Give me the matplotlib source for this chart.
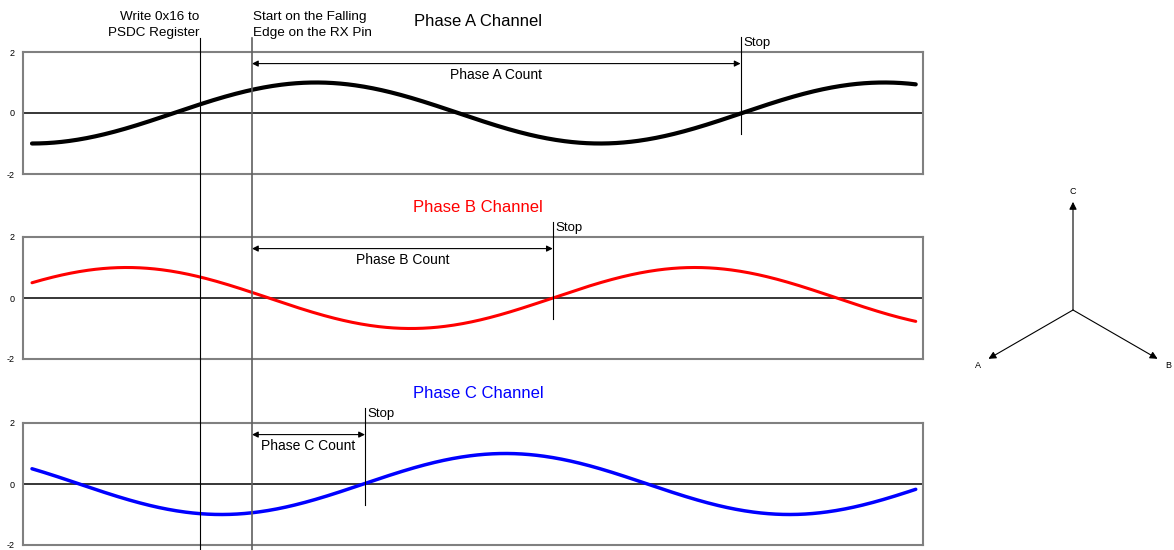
import numpy as np
import matplotlib
matplotlib.use('Agg')
import matplotlib.pyplot as plt
from matplotlib.lines import Line2D
from matplotlib import transforms

plt.rcParams['font.family'] = ['Liberation Sans', 'DejaVu Sans']

# channel data (x axis in electrical degrees)
channels = ['A', 'B', 'C']
titles = ['Phase A Channel', 'Phase B Channel', 'Phase C Channel']
colors = ['black', 'red', 'blue']
phase_offsets = [0, 120, 240]      # wave = -cos(x + offset)
line_widths = [3.0, 2.2, 2.5]
x_start, x_end = 0, 560
stop_x = [449, 330, 211]           # zero crossing where counting stops
count_labels = ['Phase A Count', 'Phase B Count', 'Phase C Count']
write_x = 106.5                    # "Write 0x16 to PSDC Register"
start_x = 139.4                    # "Start on the Falling Edge"
ytick_vals = [-2, 0, 2]

# phasor diagram
phasor_names = ['A', 'B', 'C']
phasor_angles = [210, 330, 90]
phasor_lengths = [0.93, 0.93, 1.03]

fig = plt.figure(figsize=(11.74, 5.5), dpi=100)
W, H = 1174, 550

# panel pixel boxes: (top, bottom)
panel_px = [(52, 174), (237, 359), (423, 545)]
ax_left, ax_right = 23, 923

x = np.linspace(x_start, x_end, 600)
axes = []
for i, (top, bot) in enumerate(panel_px):
    ax = fig.add_axes([ax_left / W, (H - bot) / H, (ax_right - ax_left) / W, (bot - top) / H])
    axes.append(ax)
    y = -np.cos(np.radians(x + phase_offsets[i]))
    ax.plot(x, y, color=colors[i], lw=line_widths[i], solid_capstyle='round', zorder=3)
    ax.axhline(0, color='black', lw=1.1, zorder=2)
    ax.set_xlim(-5.7, 564.6)
    ax.set_ylim(-2, 2)
    ax.set_xticks([])
    ax.set_yticks(ytick_vals)
    ax.set_yticklabels([str(v) for v in ytick_vals], fontsize=6.5)
    ax.tick_params(axis='y', length=0, pad=6)
    for s in ax.spines.values():
        s.set_color('#808080')
        s.set_linewidth(1.5)

    # stop line
    ax.plot([stop_x[i], stop_x[i]], [2.5, -0.7], color='black', lw=0.8, clip_on=False, zorder=4)
    ax.text(stop_x[i] + 1.5, 2.3, 'Stop', fontsize=9.5, ha='left', va='center')
    # count arrow
    ax.annotate('', xy=(stop_x[i], 1.62), xytext=(start_x, 1.62),
                arrowprops=dict(arrowstyle='<|-|>', lw=0.8, color='black',
                                mutation_scale=9, shrinkA=0, shrinkB=0))
    ax.text((start_x + stop_x[i]) / 2, 1.25, count_labels[i], fontsize=10,
            ha='center', va='center')
    # channel title
    fig.text(478 / W, (H - (top - 30)) / H, titles[i], color=colors[i],
             fontsize=12, ha='center', va='center')

# long vertical markers spanning all panels
trans = transforms.blended_transform_factory(axes[0].transData, fig.transFigure)
fig.add_artist(Line2D([write_x, write_x], [1 - 38 / H, 0], transform=trans,
                      color='black', lw=0.8, zorder=5))
fig.add_artist(Line2D([start_x, start_x], [1 - 38 / H, 0], transform=trans,
                      color='#606060', lw=1.2, zorder=5))
fig.text(write_x - 0.5, 1 - 25 / H, 'Write 0x16 to\nPSDC Register', transform=trans,
         fontsize=9.7, ha='right', va='center', multialignment='right', linespacing=1.4)
fig.text(start_x + 0.5, 1 - 25 / H, 'Start on the Falling\nEdge on the RX Pin', transform=trans,
         fontsize=9.7, ha='left', va='center', multialignment='left', linespacing=1.4)

# phasor diagram
pax = fig.add_axes([953 / W, (H - 430) / H, 240 / W, 240 / H])
pax.set_xlim(-1.143, 1.143)
pax.set_ylim(-1.143, 1.143)
pax.axis('off')
for name, ang, ln in zip(phasor_names, phasor_angles, phasor_lengths):
    a = np.radians(ang)
    pax.annotate('', xy=(ln * np.cos(a), ln * np.sin(a)), xytext=(0, 0),
                 arrowprops=dict(arrowstyle='-|>', lw=0.8, color='black',
                                 mutation_scale=11, shrinkA=0, shrinkB=0))
    lr = 1.05 if ang != 90 else 1.13
    pax.text(lr * np.cos(a), lr * np.sin(a), name, fontsize=6.5, ha='center', va='center')

fig.savefig('out.png', dpi=100)
